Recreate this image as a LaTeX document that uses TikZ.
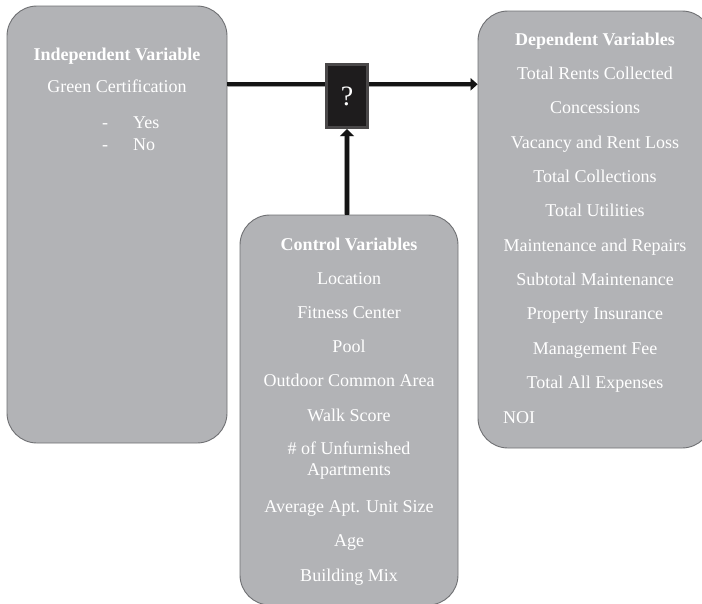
\documentclass[tikz,border=0pt]{standalone}
\usepackage{fontspec}
\setmainfont{Liberation Serif}
\usetikzlibrary{arrows.meta}
\definecolor{panelgray}{HTML}{B2B3B6}
\definecolor{panelline}{HTML}{6F7073}
\definecolor{boxdark}{HTML}{1E1C1D}
\definecolor{bevelgray}{HTML}{4A4849}

\begin{document}
\begin{tikzpicture}[x=1pt,y=-1pt]
    \tikzset{panel/.style = {shape=rectangle, draw=panelline, fill=panelgray, line width=0.9pt, rounded corners=30pt, inner sep=0pt}}
    \tikzset{vartext/.style = {text=white, anchor=base, font=\fontsize{18}{21}\selectfont}}
    \tikzset{head/.style = {vartext, font=\fontsize{18}{21}\selectfont\bfseries}}
    \tikzset{conn/.style = {draw=black!92, line width=4pt, preaction={draw=gray!75, line width=5.6pt}}}

    \clip (0,0) rectangle (702,603);

    % boxes
    \node[panel, minimum width=220pt, minimum height=437pt] (indep) at (117,224.5) {};
    \node[panel, minimum width=234pt, minimum height=437pt] (dep) at (595,229.5) {};
    \node[panel, minimum width=218pt, minimum height=390pt] (ctrl) at (349,410) {};
    \node[shape=rectangle, fill=bevelgray, minimum width=44pt, minimum height=66pt] (qbox) at (347,96) {};
    \fill[boxdark] ([shift={(3.5,3.5)}]qbox.north west) rectangle ([shift={(-3.5,-3.5)}]qbox.south east);
    \node[text=white, font=\fontsize{28}{30}\selectfont] (qmark) at (qbox) {?};

    % independent
    \node[head] (indephead) at (117,60) {Independent Variable};
    \node[vartext] (green) at (117,92) {Green Certification};
    \foreach \opt/\y in {Yes/128, No/150}
        \node[vartext, anchor=base west, inner sep=0pt] at (102,\y) {-\hspace{25pt}\opt};

    % dependent
    \node[head] (dephead) at (595,45) {Dependent Variables};
    \foreach \v [count=\i] in {Total Rents Collected, Concessions, Vacancy and Rent Loss,
        Total Collections, Total Utilities, Maintenance and Repairs, Subtotal Maintenance,
        Property Insurance, Management Fee, Total All Expenses}
        \node[vartext] (dep\i) at (595,45.15+34.35*\i) {\v};
    \node[vartext, anchor=base west, inner sep=0pt] (noi) at (503,423) {NOI};

    % control
    \node[head] (ctrlhead) at (349,250) {Control Variables};
    \foreach \v/\y in {Location/284, Fitness Center/318, Pool/352, Outdoor Common Area/386.5,
        Walk Score/421, Average Apt. Unit Size/512, Age/546.5, Building Mix/581}
        \node[vartext] at (349,\y) {\v};
    \node[vartext, anchor=center, align=center] (unfurn) at (349,461) {\# of Unfurnished\\Apartments};

    % connectors
    \coordinate (mainline) at (347,84.3);
    \draw[conn] (indep.east |- mainline) -- (qbox.west |- mainline);
    \draw[conn, -{Triangle[length=7pt,width=12pt]}] (qbox.east |- mainline) -- (dep.west |- mainline);
    \draw[conn, -{Triangle[length=7pt,width=14pt]}] (ctrl.north -| qbox) -- (qbox.south);
\end{tikzpicture}
\end{document}
